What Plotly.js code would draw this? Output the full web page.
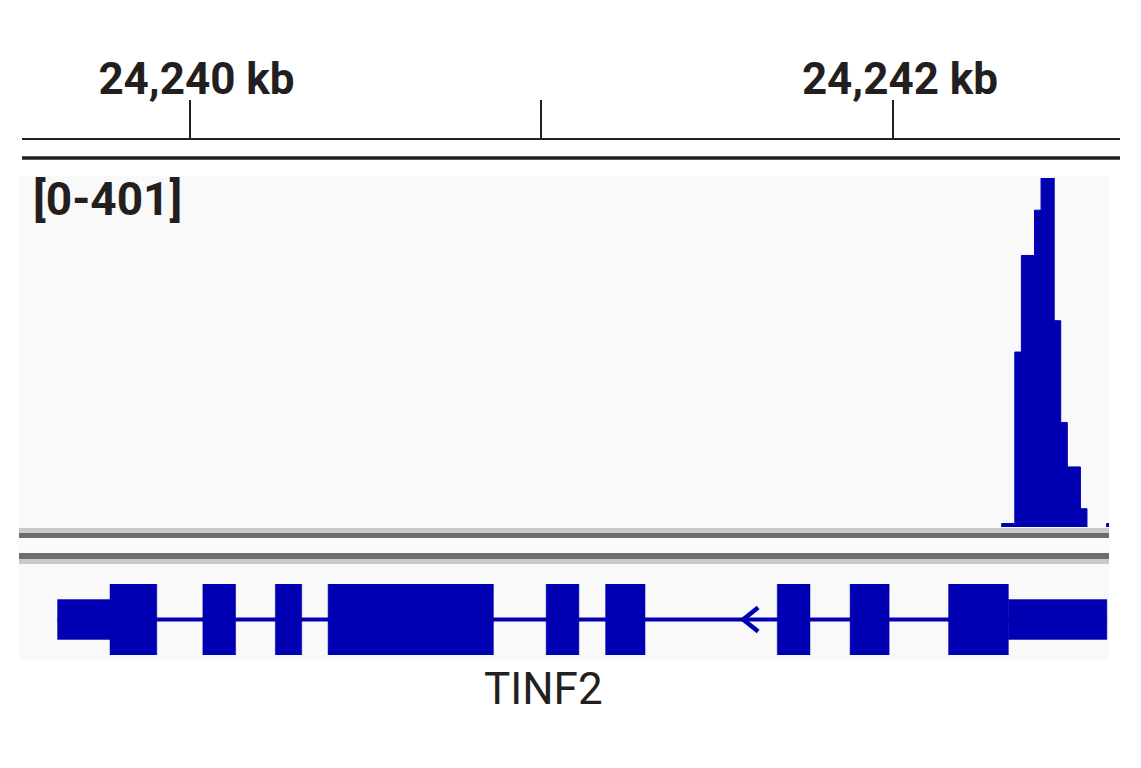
<!DOCTYPE html>
<html><head><meta charset="utf-8">
<script src="https://cdn.plot.ly/plotly-3.0.1.min.js"></script>
<style>html,body{margin:0;padding:0;background:#fff;}#chart{width:1141px;height:768px;}</style>
</head><body><div id="chart"></div>
<script>
// ---- Ruler (kb) ----
const rulerTickVals = [24240, 24241, 24242];
const rulerTickText = ['24,240 kb', '', '24,242 kb'];

// ---- Signal track (bins, kb) ----
const signalBinStart = [24242.3090, 24242.3277, 24242.3463, 24242.3650, 24242.3836, 24242.4023, 24242.4209,
                        24242.4396, 24242.4582, 24242.4769, 24242.4955, 24242.5142, 24242.5328, 24242.6074];
const signalValue    = [4, 4, 201, 312, 312, 364, 401, 401, 237, 120, 69, 69, 21, 4];
const signalBinWidth = 0.01865;
const dataRange = [0, 401];

// ---- Gene (kb) ----
const geneName = 'TINF2';
const geneStrand = '-';
const exonStart = [24239.625, 24240.038, 24240.244, 24240.394, 24241.014, 24241.183, 24241.671, 24241.878, 24242.158];
const exonEnd   = [24239.907, 24240.131, 24240.319, 24240.864, 24241.107, 24241.295, 24241.764, 24241.989, 24242.608];
const cdsStart = 24239.774;
const cdsEnd   = 24242.328;
const strandArrowPos = [24241.574];

// ---- page geometry helpers ----
const W = 1141, H = 768;
const pxPerKb = 351.75;
const kbAtPx0 = 24240 - 189.5 / pxPerKb;
const kb = px => kbAtPx0 + px / pxPerKb;
const py = px => 1 - px / H;
const px2 = px => px / W;

const BLUE = '#0000b2';
const INK = '#231f20';
const FONT = 'Roboto, "Liberation Sans", sans-serif';

// gene polygons
const thickX = [], thickY = [], thinX = [], thinY = [];
function addRect(xs, ys, a, b, h) { xs.push(a, b, b, a, a, null); ys.push(-h, -h, h, h, -h, null); }
for (let i = 0; i < exonStart.length; i++) {
  const s = exonStart[i], e = exonEnd[i];
  const ts = Math.max(s, cdsStart), te = Math.min(e, cdsEnd);
  if (ts < te) addRect(thickX, thickY, ts, te, 1);
  if (s < cdsStart) addRect(thinX, thinY, s, Math.min(e, cdsStart), 0.56);
  if (e > cdsEnd) addRect(thinX, thinY, Math.max(s, cdsEnd), e, 0.56);
}
const arm = 15 / pxPerKb, dir = geneStrand === '-' ? 1 : -1;
const chevX = [], chevY = [];
strandArrowPos.forEach(p => { chevX.push(p + dir * arm, p, p + dir * arm, null); chevY.push(0.34, 0, -0.34, null); });

const traces = [
  { x: rulerTickVals, y: [0, 0, 0], xaxis: 'x', yaxis: 'y', mode: 'markers', type: 'scatter',
    marker: { opacity: 0 }, hoverinfo: 'skip' },
  { type: 'bar', x: signalBinStart, y: signalValue, width: signalBinWidth, offset: 0,
    xaxis: 'x2', yaxis: 'y2', marker: { color: BLUE, line: { width: 1, color: BLUE } }, hoverinfo: 'skip' },
  { type: 'scatter', mode: 'lines', x: [exonStart[0], exonEnd[exonEnd.length - 1]], y: [0, 0],
    xaxis: 'x2', yaxis: 'y3', line: { color: BLUE, width: 4 }, hoverinfo: 'skip' },
  { type: 'scatter', mode: 'lines', x: chevX, y: chevY, xaxis: 'x2', yaxis: 'y3',
    line: { color: BLUE, width: 4.5 }, hoverinfo: 'skip' },
  { type: 'scatter', mode: 'lines', x: thinX, y: thinY, fill: 'toself', fillcolor: BLUE,
    xaxis: 'x2', yaxis: 'y3', line: { color: BLUE, width: 0.5 }, hoverinfo: 'skip' },
  { type: 'scatter', mode: 'lines', x: thickX, y: thickY, fill: 'toself', fillcolor: BLUE,
    xaxis: 'x2', yaxis: 'y3', line: { color: BLUE, width: 0.5 }, hoverinfo: 'skip' }
];

function band(y0, y1, color) {
  return { type: 'rect', xref: 'paper', yref: 'paper', x0: px2(19), x1: px2(1109), y0: py(y1), y1: py(y0),
           fillcolor: color, line: { width: 0 }, layer: 'below' };
}

const layout = {
  width: W, height: H, margin: { l: 0, r: 0, t: 0, b: 0 },
  paper_bgcolor: '#ffffff', plot_bgcolor: 'rgba(0,0,0,0)', showlegend: false,
  font: { family: FONT, color: INK },
  xaxis: {
    domain: [px2(22), px2(1120)], range: [kb(22), kb(1120)], anchor: 'free', position: py(139), side: 'top',
    showline: true, linewidth: 2, linecolor: INK, ticks: 'outside', ticklen: 38, tickwidth: 2, tickcolor: INK,
    tickmode: 'array', tickvals: rulerTickVals, ticktext: rulerTickText,
    tickfont: { family: FONT, size: 44, color: INK, weight: 'bold' }, ticklabelshift: 7, ticklabelstandoff: -12,
    showgrid: false, zeroline: false, fixedrange: true
  },
  yaxis: { domain: [py(150), py(140)], range: [0, 1], visible: false, fixedrange: true },
  xaxis2: { domain: [px2(19), px2(1109)], range: [kb(19), kb(1109)], anchor: 'y2', visible: false, fixedrange: true },
  yaxis2: { domain: [py(527), py(178)], range: dataRange, anchor: 'x2', visible: false, fixedrange: true },
  yaxis3: { domain: [py(655), py(584)], range: [-1, 1], anchor: 'x2', visible: false, fixedrange: true },
  shapes: [
    { type: 'line', xref: 'paper', yref: 'paper', x0: px2(22), x1: px2(1120), y0: py(158), y1: py(158),
      line: { color: INK, width: 3.5 } },
    band(176, 528, '#f9f9f9'),
    band(528, 533, '#c9c9c9'),
    band(533, 538, '#6d6d6d'),
    band(538, 553, '#fafafa'),
    band(553, 559, '#6d6d6d'),
    band(559, 564, '#c9c9c9'),
    band(564, 660, '#f9f9f9')
  ],
  annotations: [
    { xref: 'paper', yref: 'paper', x: px2(31), y: py(199), xanchor: 'left', yanchor: 'middle', showarrow: false,
      text: '[' + dataRange[0] + '-' + dataRange[1] + ']', font: { family: FONT, size: 46, color: INK, weight: 'bold' } },
    { xref: 'paper', yref: 'paper', x: px2(543), y: py(689), xanchor: 'center', yanchor: 'middle', showarrow: false,
      text: geneName, font: { family: FONT, size: 44, color: INK } }
  ]
};

Plotly.newPlot('chart', traces, layout, { staticPlot: true, displayModeBar: false });
</script></body></html>
